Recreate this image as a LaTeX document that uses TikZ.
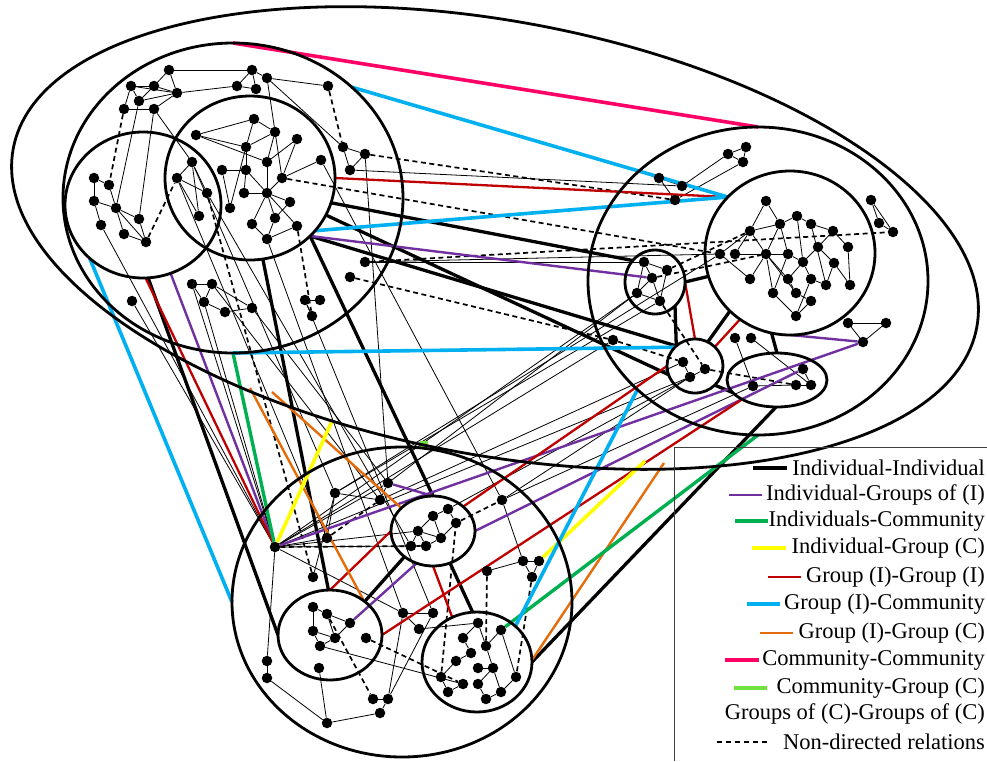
\documentclass[tikz,border=0pt]{standalone}
\usepackage{fontspec}
\setmainfont{Liberation Serif}
\usetikzlibrary{shapes.geometric}
\definecolor{cPurple}{HTML}{7030A0}
\definecolor{cGreen}{HTML}{00B050}
\definecolor{cYellow}{HTML}{FFFF00}
\definecolor{cRed}{HTML}{C00000}
\definecolor{cCyan}{HTML}{00B0F0}
\definecolor{cOrange}{HTML}{E46C0A}
\definecolor{cPink}{HTML}{FF0066}
\definecolor{cLime}{HTML}{6FE33B}
\definecolor{cBox}{HTML}{404040}
\pgfdeclarelayer{bg}
\pgfsetlayers{bg,main}
\begin{document}
\begin{tikzpicture}[x=1pt,y=-1pt,
  grp/.style={ellipse,draw,line width=2.8pt,inner sep=0pt,outer sep=0pt},
  dot/.style={circle,fill,inner sep=0pt,minimum size=10.5pt},
  edge/.style={line width=0.8pt},
  nd/.style={line width=1.7pt,dash pattern=on 5pt off 3.5pt},
  iind/.style={line width=3.3pt},
  ipurple/.style={cPurple,line width=2.4pt},
  icom/.style={cGreen,line width=3.4pt},
  igc/.style={cYellow,line width=3.6pt},
  gg/.style={cRed,line width=2.3pt},
  gcom/.style={cCyan,line width=3.6pt},
  ggc/.style={cOrange,line width=2.4pt},
  cc/.style={cPink,line width=3.6pt},
  cgc/.style={cLime,line width=3.6pt},
  leg/.style={font=\fontsize{22.5}{27}\selectfont,inner sep=0pt,anchor=east}]
\useasboundingbox (0,0) rectangle (987,761);

% ---- groups and communities ----
\node[grp,minimum width=980pt,minimum height=434pt,rotate=-10.5] (cOut) at (495,238) {};
\node[grp,minimum width=340pt,minimum height=310pt] (cTL) at (233,198) {};
\node[grp,minimum width=156pt,minimum height=146pt] (cL) at (143,205) {};
\node[grp,minimum width=170pt,minimum height=164pt] (cM) at (250,178) {};
\node[grp,minimum width=340pt,minimum height=308pt] (cR) at (758,281) {};
\node[grp,minimum width=170pt,minimum height=164pt] (cBig) at (790,253) {};
\node[grp,minimum width=60pt,minimum height=64pt] (cS1) at (655,282) {};
\node[grp,minimum width=56pt,minimum height=54pt] (cS2) at (695,366) {};
\node[grp,minimum width=100pt,minimum height=54pt] (cE) at (777,380) {};
\node[grp,minimum width=340pt,minimum height=310pt] (cB) at (402,602) {};
\node[grp,minimum width=104pt,minimum height=90pt] (cBL) at (330,635) {};
\node[grp,minimum width=84pt,minimum height=70pt] (cBT) at (433,531) {};
\node[grp,minimum width=110pt,minimum height=100pt] (cBR) at (477,662) {};

% points on the outer group boundary
\coordinate (gc1) at (332,421);
\coordinate (gc2) at (645,461);
\coordinate (gc3) at (664,463);
\coordinate (gc4) at (250,388);
\coordinate (gc5) at (272,392);
\coordinate (lg1) at (424,441);
\coordinate (lg2) at (424,449);

% ---- individuals ----
\foreach \n/\x/\y in {
 t1/169/70, t2/252/70, t3/267/78, t4/237/86, t5/256/89, t6/328/86, t7/131/86,
 t8/154/86, t9/177/93, t10/139/101, t11/124/109, t12/154/109, t13/343/147,
 t14/365/154, t15/350/170, t16/365/262, t17/350/277, t18/192/284, t19/212/284,
 t20/204/302, t21/225/312, t22/252/308, t23/132/301, t24/305/300, t25/320/300, t26/312/316,
 l1/94/178, l2/109/185, l3/94/201, l4/116/208, l5/101/225, l6/124/234, l7/139/219, l8/146/242,
 m1/192/162, m2/177/178, m3/207/193, m4/199/216, m5/196/135, m6/254/119, m7/275/132,
 m8/297/139, m9/246/147, m10/267/162, m11/321/160, m12/222/170, m13/246/170, m14/282/178,
 m15/244/193, m16/267/193, m17/230/208, m18/290/202, m19/275/218, m20/297/226,
 m21/252/224, m22/267/239,
 h/275/547,
 bn1/335/493, bn2/380/500, bn3/388/483, bn4/327/538, bn5/313/577, bn6/502/500,
 bn7/523/561, bn8/539/561, bn9/532/577, bn10/487/571, bn11/403/613, bn12/433/613,
 bn13/419/629, bn14/267/661, bn15/267/678, bn16/327/723, bn17/373/699, bn18/388/699, bn19/380/713,
 bt1/433/516, bt2/448/509, bt3/456/523, bt4/418/531, bt5/441/538, bt6/411/546, bt7/426/546,
 bl1/313/607, bl2/327/614, bl3/350/623, bl4/313/631, bl5/335/638, bl6/320/646, bl7/366/638, bl8/319/668,
 br1/478/623, br2/501/630, br3/463/638, br4/486/646, br5/471/653, br6/456/661, br7/478/668,
 br8/493/668, br9/516/677, br10/441/677, br11/463/684, br12/478/684, br13/448/692, br14/501/692, br15/486/699,
 tr1/659/178, tr2/682/186, tr3/675/200, tr4/728/154, tr5/746/147, tr6/743/162,
 rn1/871/200, rn2/879/223, rn3/893/232, rn4/848/323, rn5/886/323, rn6/863/342,
 g1/766/201, g2/797/216, g3/780/224, g4/811/224, g5/833/231, g6/750/231, g7/848/247,
 g8/818/247, g9/720/254, g10/735/254, g11/766/254, g12/788/254, g13/803/262, g14/834/263,
 g15/750/279, g16/788/279, g17/811/279, g18/826/285, g19/850/285, g20/773/293,
 g21/796/293, g22/811/301, g23/796/316,
 s1a/644/262, s1b/667/270, s1c/652/278, s1d/637/293, s1e/660/301,
 s2a/683/362, s2b/705/369, s2c/690/377, sx/613/340,
 e1/753/386, e2/796/385, e3/811/385, e4/803/369, ea/735/338, eb/751/338}
 \node[dot] (\n) at (\x,\y) {};

\begin{pgfonlayer}{bg}
% ---- plain relations ----
\foreach \a/\b in {
 t1/t2, t1/t8, t1/t9, t7/t8, t7/t9, t7/t10, t8/t9, t10/t9, t10/t8, t11/t12, t12/t9,
 t9/t4, t4/t2, t4/t5, t2/t5, t2/t3, t3/t6, t7/t11, t13/t14, t13/t15, t14/t15, t3/t13, t3/m14,
 t18/t19, t19/t20, t18/t20, t20/t21, t21/t22, t19/t22, t24/t25, t24/t26,
 l1/l2, l1/l3, l3/l4, l2/l4, l3/l5, l4/l6, l4/l8, l4/l7, l6/l8, l7/l8, l4/t10, l7/t12,
 m2/m1, m2/m3, m2/m4, m1/m3, m1/m4, t12/m1,
 m5/m6, m5/m9, m5/m10, m6/m9, m6/m7, m7/m9, m7/m10, m8/m10, m8/m14, m14/m11, m9/m17,
 m12/m17, m12/m13, m13/m16, m10/m16, m16/m14, m16/m15, m16/m18, m16/m20, m16/m21,
 m16/m19, m18/m19, m19/m22, m20/m22, m21/m22, m15/m13, m9/m13,
 t15/tr2, t16/g9, t16/s1a,
 tr1/tr2, tr1/tr3, tr2/tr4, tr3/tr6, tr4/tr5, tr5/tr6, tr4/tr6,
 rn1/rn2, rn1/rn3, rn2/rn3, rn4/rn5, rn4/rn6, rn5/rn6,
 g1/g6, g1/g3, g2/g3, g3/g6, g6/g9, g6/g10, g6/g11, g3/g11, g3/g12, g2/g4, g2/g13,
 g4/g5, g5/g8, g5/g7, g7/g19, g8/g13, g4/g18, g14/g8, g14/g19, g11/g15, g11/g20,
 g11/g16, g11/g21, g9/g15, g10/g12, g12/g20, g13/g16, g13/g17, g16/g21, g17/g23,
 g20/g23, g21/g22, g22/g23, g18/g14, g17/g18, g12/g13,
 s1a/s1b, s1a/s1c, s1b/s1e, s1c/s1d, s1d/s1e, s1c/s1e, s1a/s1d, s2a/s2c,
 ea/e1, eb/e3, e1/e2, e2/e3, e4/e3,
 bn1/bn2, bn2/bn3, bn1/bn4, bn1/bn5, h/bn4, h/bn14, bn14/bn15, bn15/bn16, bn16/bn19,
 bn19/bn18, bn17/bn18, bn16/bl8, bn6/bn7, bn7/bn8, bn7/bn9, bn8/bn9, bn10/bn7,
 bn11/bn12, bn11/bn13, bn11/bn18, bn13/br1, bn12/bn18,
 bt1/bt2, bt1/bt4, bt2/bt3, bt3/bt5, bt4/bt5, bt4/bt6, bt4/bt7, bt5/bt7, bt1/bt5,
 bl1/bl2, bl1/bl4, bl2/bl5, bl4/bl6, bl4/bl5, bl6/bl5, bl5/bl3, bl2/bl3, bl6/br11,
 br1/br3, br2/br4, br3/br5, br5/br6, br4/br8, br7/br8, br8/br12, br6/br10, br10/br13,
 br11/br13, br12/br15, br14/br15, br8/br14, br9/br14, br2/br9, br1/br4,
 h/l5, h/t18, h/t20, h/t23, h/bn3, h/bt4, h/bt6, h/s1d, h/sx, h/s2c, h/bn11,
 m2/bn4, m1/bn1, t22/bn3, t19/bn2, t14/bn3, m11/bn6, m3/bt6, t24/bn12, m22/bn11,
 bn3/s1d, bn1/s1e, bn2/s2a, bn1/g9, bt2/s2b, bn6/s2c, bn6/e1}
 \draw[edge] (\a) -- (\b);

% ---- non-directed relations ----
\foreach \a/\b in {
 t11/l2, l8/m2, t6/t13, m3/bn5, m20/t26, t14/tr3, m14/g9, t17/sx, sx/s2a, t16/rn3,
 g6/s1b, s1c/g11, s1e/s2b, s2b/e2, h/bt7, bn4/bn2, bt3/bn6, bn10/br4, bn9/br9,
 br10/bt3, bl2/bn17, bl7/br11}
 \draw[nd] (\a) -- (\b);

% ---- individual-individual ----
\draw[iind] (cM.-17) -- (cS1.136);
\draw[iind] (cM.-26) -- (cS2.-162);
\draw[iind] (cM.-44) -- (cS2.133);
\draw[iind] (cM.-81) -- (cBL.92);
\draw[iind] (cM.-44) -- (cBT.north);
\draw[iind] (cL.-86) -- (cBL.west);
\draw[iind] (cBT.-138) -- (cBL.44);
\draw[iind] (cBT.-62) -- (cBR.95);
\draw[iind] (cBR.east) -- (cE.-92);
\draw[iind] (cS1.-50) -- (cS2.133);
\draw[iind] (cS1.east) -- (cBig.-164);
\draw[iind] (cS2.62) -- (cBig.-136);
\draw[iind] (cBig.-103) -- (cE.north);
\draw[iind] (cS2.-44) -- (cE.-164);

% ---- individual-groups of (I) ----
\draw[ipurple] (cM.-44) -- (s1c);
\draw[ipurple] (cL.-68) -- (h);
\draw[ipurple] (cBig.south) -- (rn6);
\draw[ipurple] (h) -- (rn6);
\draw[ipurple] (e4) -- (cBT.east);
\draw[ipurple] (bn3) -- (cBT.north);
\draw[ipurple] (cBT.-117) -- (bl3);

% ---- group (I)-group (I) ----
\draw[gg] (cM.east) -- (cBig.138);
\draw[gg] (cL.-88) -- (h);
\draw[gg] (cBL.north) -- (cBT.west);
\draw[gg] (cBL.east) -- (cE.-151);
\draw[gg] (cBT.39) -- (cS2.west);
\draw[gg] (cBT.south) -- (cBR.119);
\draw[gg] (cBig.-127) -- (cS2.44);
\draw[gg] (cS1.east) -- (cS2.north);

% ---- group (I)-group (C) ----
\draw[ggc] (gc4) -- (cBL.45);
\draw[ggc] (gc5) -- (cBT.144);
\draw[ggc] (cBR.2) -- (gc3);

% ---- individuals-community ----
\draw[icom] (cTL.south) -- (h);
\draw[icom] (cR.south) -- (br2);

% ---- individual-group (C) ----
\draw[igc] (h) -- (gc1);
\draw[igc] (bn8) -- (gc2);

% ---- group (I)-community ----
\draw[gcom] (cTL.43) -- (cBig.138);
\draw[gcom] (cM.-39) -- (cBig.138);
\draw[gcom] (cTL.south) -- (cS2.137);
\draw[gcom] (cR.-138) -- (cBR.43);
\draw[gcom] (cL.-135) -- (cB.west);

% ---- community-community and community-group (C) ----
\draw[cc] (cTL.north) -- (cR.north);
\draw[cLime,line width=8pt] (lg1) -- (lg2);
\end{pgfonlayer}

% ---- legend ----
\draw[cBox,line width=0.8pt] (674,761) -- (674,447) -- (987,447);
\node[leg] (k1) at (985,468) {Individual-Individual};
\node[leg] (k2) at (985,495) {Individual-Groups of (I)};
\node[leg] (k3) at (985,521) {Individuals-Community};
\node[leg] (k4) at (985,548) {Individual-Group (C)};
\node[leg] (k5) at (985,577) {Group (I)-Group (I)};
\node[leg] (k6) at (985,604) {Group (I)-Community};
\node[leg] (k7) at (985,633) {Group (I)-Group (C)};
\node[leg] (k8) at (985,660) {Community-Community};
\node[leg] (k9) at (985,688) {Community-Group (C)};
\node[leg] (k10) at (985,714) {Groups of (C)-Groups of (C)};
\node[leg] (k11) at (985,742) {Non-directed relations};
\draw[iind] ([xshift=-39pt]k1.west) -- ([xshift=-5pt]k1.west);
\draw[ipurple] ([xshift=-37pt]k2.west) -- ([xshift=-4pt]k2.west);
\draw[icom] ([xshift=-33pt]k3.west) -- ([xshift=0pt]k3.west);
\draw[igc] ([xshift=-40pt]k4.west) -- ([xshift=-6pt]k4.west);
\draw[gg] ([xshift=-38pt]k5.west) -- ([xshift=-5pt]k5.west);
\draw[gcom] ([xshift=-37pt]k6.west) -- ([xshift=-4pt]k6.west);
\draw[ggc] ([xshift=-38pt]k7.west) -- ([xshift=-5pt]k7.west);
\draw[cc] ([xshift=-37pt]k8.west) -- ([xshift=-3pt]k8.west);
\draw[cgc] ([xshift=-42pt]k9.west) -- ([xshift=-9pt]k9.west);
\draw[line width=1.2pt,dash pattern=on 5pt off 4pt] ([xshift=-66pt]k11.west) -- ([xshift=-15pt]k11.west);
\end{tikzpicture}
\end{document}
